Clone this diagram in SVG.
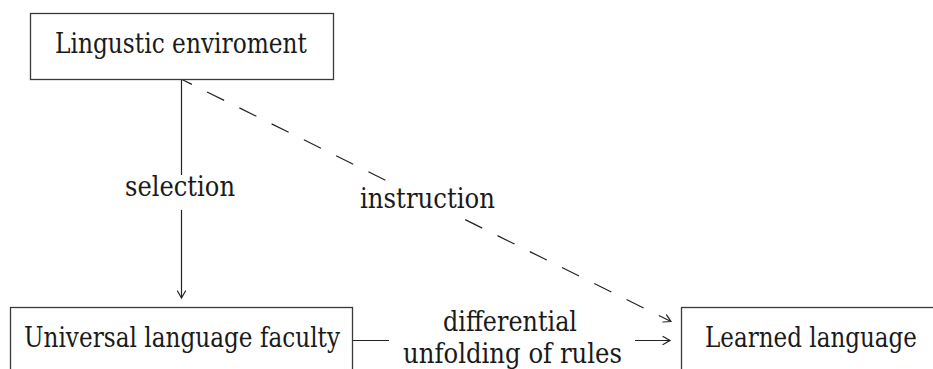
<svg xmlns="http://www.w3.org/2000/svg" width="933" height="369" viewBox="0 0 933 369">
  <defs>
    <marker id="to" viewBox="-8 -5 10 10" refX="0" refY="0" markerWidth="10" markerHeight="10" markerUnits="userSpaceOnUse" orient="auto" overflow="visible">
      <path d="M -7 -4 Q -2 -1.2 0 0 Q -2 1.2 -7 4" fill="none" stroke="#222222" stroke-width="1.2" stroke-linecap="round"/>
    </marker>
  </defs>

  <rect width="933" height="369" fill="#ffffff"/>

  <!-- connectors: lines first, then white label plates and labels on top -->
  <g id="connectors" fill="none" stroke="#222222" stroke-width="1.2">
    <line id="edge-selection" x1="181.5" y1="79.5" x2="181.5" y2="298" marker-end="url(#to)"/>
    <line id="edge-instruction" x1="182" y1="79.5" x2="671" y2="321.5" stroke-dasharray="19 17" stroke-dashoffset="8" marker-end="url(#to)"/>
    <line id="edge-unfolding" x1="352" y1="340.5" x2="670" y2="340.5" marker-end="url(#to)"/>
    <rect x="120" y="175" width="122" height="35" fill="#ffffff" stroke="none"/>
    <rect x="354" y="183" width="148" height="34" fill="#ffffff" stroke="none"/>
    <rect x="389" y="308" width="246" height="61" fill="#ffffff" stroke="none"/>
  </g>
  <text x="125" y="196" font-family="DejaVu Serif, serif" font-size="27" fill="#1a1a1a" textLength="110" lengthAdjust="spacingAndGlyphs">selection</text>
  <text x="360" y="208" font-family="DejaVu Serif, serif" font-size="27" fill="#1a1a1a" textLength="135" lengthAdjust="spacingAndGlyphs">instruction</text>
  <text x="443" y="331" font-family="DejaVu Serif, serif" font-size="27" fill="#1a1a1a" textLength="134" lengthAdjust="spacingAndGlyphs">differential</text>
  <text x="403" y="363" font-family="DejaVu Serif, serif" font-size="27" fill="#1a1a1a" textLength="219" lengthAdjust="spacingAndGlyphs">unfolding of rules</text>

  <!-- nodes -->
  <g id="node-environment">
    <rect x="30.5" y="13.5" width="303" height="66" fill="#ffffff" stroke="#3a3a3a" stroke-width="1.3"/>
  </g>
  <text x="55" y="53" font-family="DejaVu Serif, serif" font-size="27" fill="#1a1a1a" textLength="252" lengthAdjust="spacingAndGlyphs">Lingustic enviroment</text>
  <g id="node-faculty">
    <rect x="10.5" y="307.5" width="342" height="80" fill="#ffffff" stroke="#3a3a3a" stroke-width="1.3"/>
  </g>
  <text x="24" y="347" font-family="DejaVu Serif, serif" font-size="27" fill="#1a1a1a" textLength="316" lengthAdjust="spacingAndGlyphs">Universal language faculty</text>
  <g id="node-learned">
    <rect x="681.5" y="307.5" width="280" height="80" fill="#ffffff" stroke="#3a3a3a" stroke-width="1.3"/>
  </g>
  <text x="705" y="347" font-family="DejaVu Serif, serif" font-size="27" fill="#1a1a1a" textLength="212" lengthAdjust="spacingAndGlyphs">Learned language</text>
</svg>
